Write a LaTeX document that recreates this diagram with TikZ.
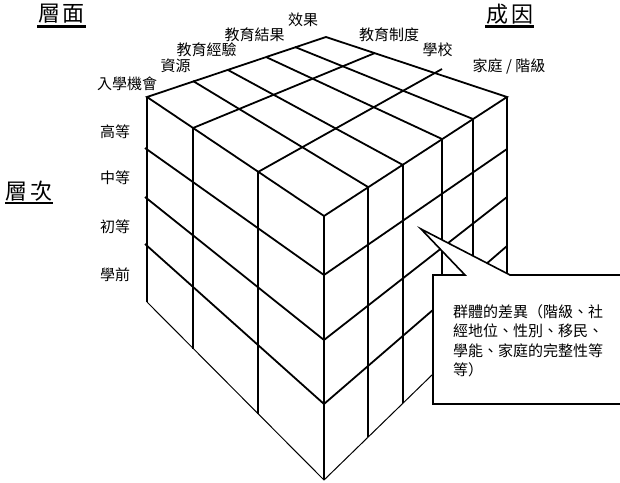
\documentclass[tikz,border=0pt]{standalone}
\usepackage{fontspec}
\setmainfont{Noto Sans CJK TC}
\begin{document}
\begin{tikzpicture}[x=1pt,y=-1pt,
  lbl/.style={inner sep=0pt,font=\fontsize{15}{18}\selectfont},
  hdr/.style={inner sep=0pt,font=\fontsize{22}{26}\selectfont},
  gridline/.style={line width=1.8pt},
  bigedge/.style={line width=2.8pt},
  thinedge/.style={line width=1pt},
  ul/.style={line width=2.4pt},
  callout/.style={draw,line width=1.6pt,fill=white,line join=miter}]
\useasboundingbox (0,0) rectangle (620,482);
\clip (0,0) rectangle (620,482);
% corners
\coordinate (L) at (147,97);
\coordinate (B) at (326,37);
\coordinate (R) at (507,97);
\coordinate (F) at (324,216);
\coordinate (LB) at (147,302);
\coordinate (FB) at (324,480);
\coordinate (RB) at (507,302);
% top face grid
\foreach \a/\b/\c/\d in {193/81/368/187, 228/70/403/165, 266/57/442/139, 295/47/473/119}
  \draw[gridline] (\a,\b) -- (\c,\d);
\draw[gridline] (193,128) -- (375,53);
\draw[gridline] (258,172) -- (442,69);
% left face grid
\draw[gridline] (193,128) -- (193,349);
\draw[gridline] (258,172) -- (258,414);
\foreach \a/\b in {148/275, 197/340, 244/404}
  \draw[gridline] (145,\a) -- (324,\b);
% right face grid
\foreach \a/\b/\c in {368/187/437, 403/165/403, 442/139/365, 473/119/335}
  \draw[gridline] (\a,\b) -- (\a,\c);
\foreach \a/\b in {275/149, 340/197, 404/246}
  \draw[gridline] (324,\a) -- (507,\b);
% outline
\draw[gridline] (L) -- (B) -- (R) -- (F) -- cycle;
\draw[bigedge] (L) -- (LB);
\draw[bigedge] (F) -- (FB);
\draw[bigedge] (R) -- (RB);
\draw[thinedge] (LB) -- (FB) -- (RB);
% headers
\node[hdr] (h1) at (61.5,14) {層\hspace{3pt}面};
\draw[ul] (37,26.5) -- (86,26.5);
\node[hdr] (h2) at (509.5,14) {成\hspace{3pt}因};
\draw[ul] (485,26.5) -- (534,26.5);
\node[hdr] (h3) at (29,191.5) {層\hspace{3pt}次};
\draw[ul] (5,202.7) -- (53,202.7);
% top labels
\node[lbl] (t1) at (127,84) {入學機會};
\node[lbl] (t2) at (175.5,66) {資源};
\node[lbl] (t3) at (206.5,50) {教育經驗};
\node[lbl] (t4) at (254.5,34.5) {教育結果};
\node[lbl] (t5) at (303,19.5) {效果};
\node[lbl] (c1) at (389,35) {教育制度};
\node[lbl] (c2) at (437.5,50) {學校};
\node[lbl] (c3) at (509,66.5) {家庭 / 階級};
% level labels
\node[lbl] (v1) at (115,132) {高等};
\node[lbl] (v2) at (115,178) {中等};
\node[lbl] (v3) at (115,227) {初等};
\node[lbl] (v4) at (115,275) {學前};
% callout
\draw[callout] (433,404) -- (433,275) -- (465,275) -- (421,229) -- (510,275) -- (640,275) -- (640,404) -- cycle;
\node[lbl,anchor=west] (k1) at (453,312) {群體的差異（階級、社};
\node[lbl,anchor=west] (k2) at (453,331) {經地位、性別、移民、};
\node[lbl,anchor=west] (k3) at (453,350.5) {學能、家庭的完整性等};
\node[lbl,anchor=west] (k4) at (453,370) {等）};
\end{tikzpicture}
\end{document}
